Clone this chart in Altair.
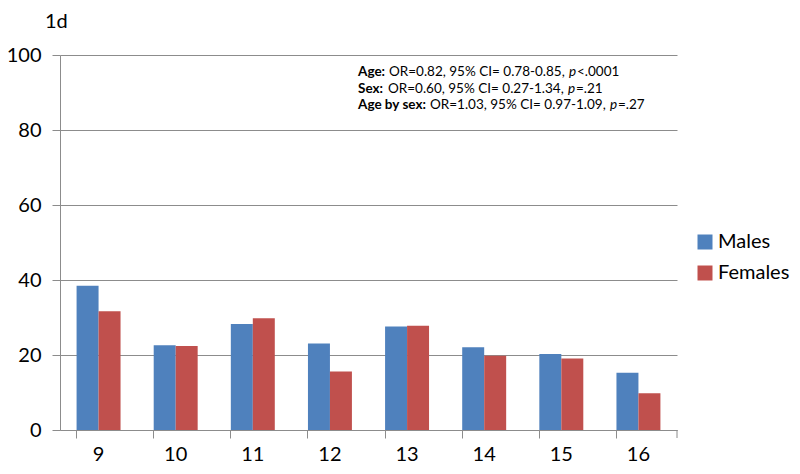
import altair as alt
import pandas as pd

ages = ["9", "10", "11", "12", "13", "14", "15", "16"]
males = [38.5, 22.6, 28.3, 23.1, 27.6, 22.1, 20.3, 15.3]
females = [31.7, 22.4, 29.8, 15.6, 27.8, 19.8, 19.1, 9.8]
series = ["Males", "Females"]
colors = ["#4F81BD", "#C0504D"]
y_ticks = [0, 20, 40, 60, 80, 100]

rows = []
for a, m, f in zip(ages, males, females):
    rows.append({"age": a, "sex": "Males", "value": m})
    rows.append({"age": a, "sex": "Females", "value": f})
df = pd.DataFrame(rows)

FONT = "Lato"
GRID = "#8C8C8C"
W, H = 617, 375

bars = alt.Chart(df).mark_bar().encode(
    x=alt.X("age:N", sort=ages, title=None,
            scale=alt.Scale(paddingInner=0.43, paddingOuter=0.215),
            axis=alt.Axis(labelAngle=0, labelFontSize=20, labelFont=FONT,
                          labelColor="black", tickSize=8, tickColor=GRID,
                          domainColor=GRID, bandPosition=0, labelPadding=6,
                          labelFlush=False)),
    xOffset=alt.XOffset("sex:N", sort=series),
    y=alt.Y("value:Q", title=None,
            scale=alt.Scale(domain=[0, 100]),
            axis=alt.Axis(values=y_ticks, labelFontSize=20, labelFont=FONT,
                          labelColor="black", tickSize=8, tickColor=GRID,
                          domainColor=GRID, gridColor=GRID, labelPadding=11)),
    color=alt.Color("sex:N", sort=series,
                    scale=alt.Scale(domain=series, range=colors),
                    legend=alt.Legend(title=None, orient="none",
                                      legendX=635, legendY=177,
                                      symbolType="square", symbolSize=225,
                                      symbolStrokeWidth=0,
                                      labelFontSize=20, labelFont=FONT,
                                      labelColor="black", rowPadding=11,
                                      labelOffset=3)),
)

end_tick = alt.Chart(pd.DataFrame({"v": [0]})).mark_rule(color=GRID).encode(
    x=alt.value(W), y=alt.value(H), y2=alt.value(H + 8))

title_df = pd.DataFrame({"t": ["1d"]})
title = alt.Chart(title_df).mark_text(
    font=FONT, fontSize=20, align="left", baseline="middle", color="black"
).encode(x=alt.value(-15), y=alt.value(-33), text="t:N")

seg = [
    # (text, x_px_abs, line_index, weight, style)
    ("Age:", 358, 0, "bold", "normal"),
    ("OR=0.82, 95% CI= 0.78-0.85,", 389, 0, "normal", "normal"),
    ("p", 569, 0, "normal", "italic"),
    ("<.0001", 577, 0, "normal", "normal"),
    ("Sex:", 358, 1, "bold", "normal"),
    ("OR=0.60, 95% CI= 0.27-1.34,", 388, 1, "normal", "normal"),
    ("p", 568, 1, "normal", "italic"),
    ("=.21", 576, 1, "normal", "normal"),
    ("Age by sex:", 358, 2, "bold", "normal"),
    ("OR=1.03, 95% CI= 0.97-1.09,", 430, 2, "normal", "normal"),
    ("p", 610, 2, "normal", "italic"),
    ("=.27", 618, 2, "normal", "normal"),
]
line_y = [72, 88.5, 105]
ann_layers = []
for text, xp, li, wt, st in seg:
    d = pd.DataFrame({"t": [text]})
    ann_layers.append(
        alt.Chart(d).mark_text(font=FONT, fontSize=13.5, fontWeight=wt,
                               fontStyle=st, align="left", baseline="middle",
                               color="black")
        .encode(x=alt.value(xp - 60), y=alt.value(line_y[li] - 55), text="t:N")
    )

chart = alt.layer(bars, end_tick, title, *ann_layers).properties(
    width=W, height=H,
    autosize=alt.AutoSizeParams(type="none"),
    padding={"left": 52, "top": 47, "right": 115, "bottom": 36},
).configure_view(stroke=None).configure_axis(grid=True).configure_axisX(grid=False)

chart.save("out.html", embed_options={"renderer": "svg", "actions": False})
